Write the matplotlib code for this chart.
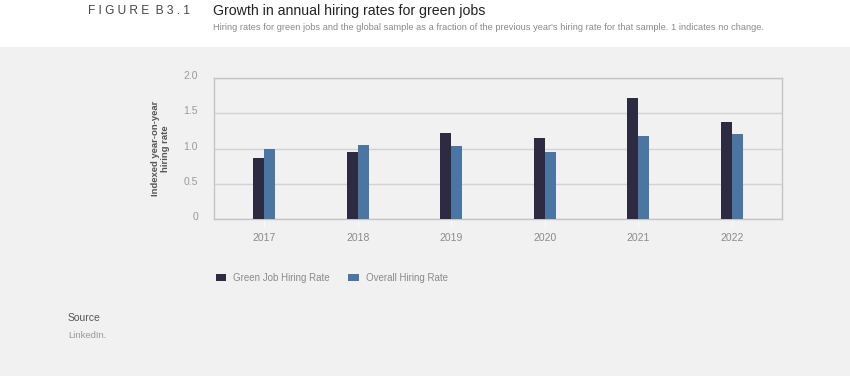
import numpy as np
import matplotlib.pyplot as plt
import matplotlib.transforms as mtransforms
from matplotlib.patches import Rectangle

years = ["2017", "2018", "2019", "2020", "2021", "2022"]
green_rate = [0.87, 0.95, 1.22, 1.15, 1.71, 1.38]
overall_rate = [1.00, 1.05, 1.03, 0.95, 1.18, 1.20]
yticks = [0, 0.5, 1.0, 1.5, 2.0]
ytick_labels = ["0", "0.5", "1.0", "1.5", "2.0"]

plt.rcParams['font.family'] = ['Liberation Sans', 'DejaVu Sans']

W, H = 850, 376
fig = plt.figure(figsize=(8.5, 3.76), dpi=100)
fig.patch.set_facecolor('#f2f1f1')
# bande blanche en haut
fig.patches.append(Rectangle((0, 1 - 47 / H), 1, 47 / H, transform=fig.transFigure,
                             facecolor='white', edgecolor='none', zorder=0))

ax = fig.add_axes([214 / W, 1 - 219 / H, (782 - 214) / W, (219 - 78) / H])
ax.set_facecolor('#f2f1f1')

x = np.arange(len(years))
bw = 0.118
c_green = '#2c2b41'
c_all = '#4a76a1'
ax.bar(x - bw / 2, green_rate, bw, color=c_green, zorder=3, label='Green Job Hiring Rate')
ax.bar(x + bw / 2, overall_rate, bw, color=c_all, zorder=3, label='Overall Hiring Rate')

ax.set_xlim(-0.535, 5.535)
ax.set_ylim(0, 2.0)
ax.set_yticks(yticks)
ax.set_yticklabels(ytick_labels)
ax.set_xticks(x)
ax.set_xticklabels(years)
ax.grid(axis='y', color='#d3d2d2', linewidth=1.0, zorder=1)
for s in ax.spines.values():
    s.set_color('#c6c5c5')
    s.set_linewidth(1.0)
ax.tick_params(axis='y', length=0, pad=11.5, labelsize=7.5, labelcolor='#9a9a9a')
ax.tick_params(axis='x', length=6, color='#fafafa', pad=4, labelsize=7.5, labelcolor='#8a8a8a')
# les labels de l'axe y sont un peu au-dessus des lignes
off = mtransforms.ScaledTranslation(0, 3 / 100, fig.dpi_scale_trans)
for lab in ax.get_yticklabels():
    lab.set_transform(lab.get_transform() + off)

ax.set_ylabel("Indexed year-on-year\nhiring rate", fontsize=6.8, fontweight='bold',
              color='#555555', labelpad=10, linespacing=1.05)

# en-tête
fig.text(88 / W, 1 - 11 / H, "F I G U R E  B 3 . 1", fontsize=8.6,
         color='#444444', va='center', ha='left')
fig.text(213 / W, 1 - 11 / H, "Growth in annual hiring rates for green jobs", fontsize=10.2,
         color='#222222', va='center', ha='left')
fig.text(213 / W, 1 - 28 / H,
         "Hiring rates for green jobs and the global sample as a fraction of the previous year's hiring rate for that sample. 1 indicates no change.",
         fontsize=6.63, color='#8a8a8a', va='center', ha='left')

# légende
leg = fig.legend(loc='center left', bbox_to_anchor=(207 / W, 1 - 278 / H), ncol=2,
                 frameon=False, fontsize=7, handlelength=1.1, handleheight=0.6,
                 columnspacing=1.9, handletextpad=0.7, labelcolor='#8a8a8a')

# source
fig.text(68 / W, 1 - 318 / H, "Source", fontsize=7.5, color='#555555', va='center', ha='left')
fig.text(68 / W, 1 - 335 / H, "LinkedIn.", fontsize=6.8, color='#999999', va='center', ha='left')

fig.savefig('out.png', dpi=100, facecolor=fig.get_facecolor())
